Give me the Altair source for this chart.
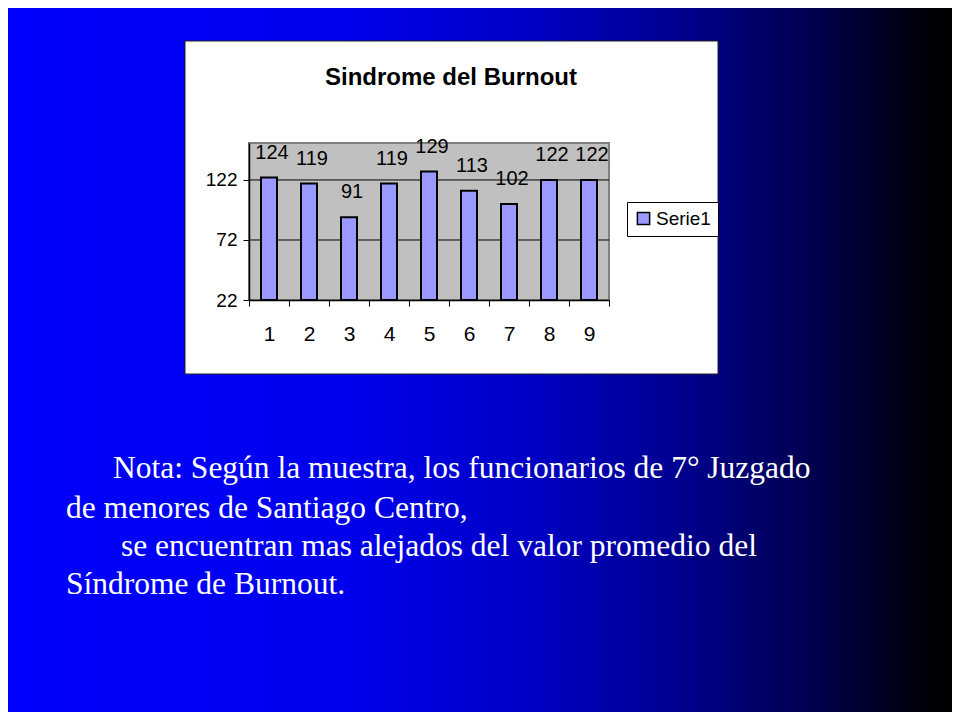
import altair as alt
import pandas as pd

# ---- data ----
CATEGORIES = ["1", "2", "3", "4", "5", "6", "7", "8", "9"]
VALUES = [124, 119, 91, 119, 129, 113, 102, 122, 122]
SERIES = "Serie1"
Y_TICKS = [22, 72, 122]
GRID_VALUES = [72, 122]
TITLE = "Sindrome del Burnout"
NOTE_LINES = [
    "Nota: Según la muestra, los funcionarios de 7° Juzgado",
    "de menores de Santiago Centro,",
    "se encuentran mas alejados del valor promedio del",
    "Síndrome de Burnout.",
]

# ---- layout (pixels, relative to the plot area) ----
W, H = 360, 157
PAD = {"left": 241, "top": 135, "right": 343, "bottom": 412}
NOTE_X = [-136, -183, -128, -183]
NOTE_Y = [335, 375, 413, 451]

BAR_COLOR = "#9999ff"
SANS = "Liberation Sans"
SERIF = "Liberation Serif"

df = pd.DataFrame({"cat": CATEGORIES, "val": VALUES, "serie": [SERIES] * len(VALUES)})
grid_df = pd.DataFrame({"val": GRID_VALUES})

yscale = alt.Scale(domain=[22, 152.8], nice=False, zero=False)
xscale = alt.Scale(paddingInner=0, paddingOuter=0)

yaxis = alt.Axis(values=Y_TICKS, tickSize=6, tickColor="black", domainColor="black",
                 domainWidth=1.5, labelFontSize=19, labelFont=SANS, labelColor="black",
                 labelPadding=6, zindex=1, grid=False, title=None)
xaxis = alt.Axis(labelAngle=0, tickBand="extent", tickSize=6, tickColor="black",
                 domainColor="black", domainWidth=1.5, labelFontSize=21, labelFont=SANS,
                 labelColor="black", labelPadding=17, zindex=1, grid=False, title=None)

bg_gradient = alt.LinearGradient(
    gradient="linear",
    stops=[
        alt.GradientStop(offset=0, color="#0000ff"),
        alt.GradientStop(offset=0.35, color="#0000ee"),
        alt.GradientStop(offset=0.55, color="#0000c6"),
        alt.GradientStop(offset=0.7, color="#000094"),
        alt.GradientStop(offset=0.85, color="#000050"),
        alt.GradientStop(offset=0.96, color="#000010"),
        alt.GradientStop(offset=1, color="#000000"),
    ],
    x1=0, x2=1, y1=0, y2=0,
)

one = pd.DataFrame({"k": [0]})

background = alt.Chart(one).mark_rect(fill=bg_gradient).encode(
    x=alt.value(-PAD["left"]), x2=alt.value(W + PAD["right"]),
    y=alt.value(-PAD["top"]), y2=alt.value(H + PAD["bottom"]),
)

white_box = alt.Chart(one).mark_rect(fill="white", stroke="#222222", strokeWidth=1).encode(
    x=alt.value(-64), x2=alt.value(469),
    y=alt.value(-102), y2=alt.value(231),
)

plot_bg = alt.Chart(one).mark_rect(fill="#c0c0c0", stroke="#808080", strokeWidth=2).encode(
    x=alt.value(0), x2=alt.value(W),
    y=alt.value(0), y2=alt.value(H),
)

grid = alt.Chart(grid_df).mark_rule(color="black", strokeWidth=1).encode(
    y=alt.Y("val:Q", scale=yscale, axis=yaxis),
)

bars = alt.Chart(df).mark_bar(stroke="black", strokeWidth=2, width=alt.RelativeBandSize(0.4)).encode(
    x=alt.X("cat:O", sort=CATEGORIES, scale=xscale, axis=xaxis),
    y=alt.Y("val:Q", scale=yscale, axis=yaxis),
    y2=alt.datum(22),
    color=alt.Color("serie:N", scale=alt.Scale(range=[BAR_COLOR]),
                    legend=alt.Legend(title=None, orient="none", legendX=378, legendY=59,
                                      symbolType="square", symbolSize=150,
                                      symbolStrokeColor="black", symbolStrokeWidth=1.5,
                                      labelFontSize=19, labelFont=SANS, labelColor="black",
                                      strokeColor="black", fillColor="white", padding=7,
                                      labelOffset=3)),
)

labels = alt.Chart(df).mark_text(font=SANS, fontSize=20, color="black",
                                 baseline="alphabetic", dy=-19, dx=3).encode(
    x=alt.X("cat:O", sort=CATEGORIES, scale=xscale, axis=xaxis),
    y=alt.Y("val:Q", scale=yscale, axis=yaxis),
    text=alt.Text("val:Q"),
)

title = alt.Chart(pd.DataFrame({"t": [TITLE]})).mark_text(
    font=SANS, fontSize=24, fontWeight="bold", color="black", baseline="alphabetic", align="center"
).encode(x=alt.value(202), y=alt.value(-58), text="t:N")

notes = []
for i, line in enumerate(NOTE_LINES):
    notes.append(
        alt.Chart(pd.DataFrame({"t": [line]})).mark_text(
            font=SERIF, fontSize=31.5, color="white", baseline="alphabetic", align="left"
        ).encode(x=alt.value(NOTE_X[i]), y=alt.value(NOTE_Y[i]), text="t:N")
    )

chart = alt.layer(background, white_box, plot_bg, grid, bars, labels, title, *notes).properties(
    width=W, height=H,
    autosize=alt.AutoSizeParams(type="none"),
    padding=PAD,
).configure_view(stroke=None).configure(background="#0000ff")

chart.save("out.html", embed_options={"renderer": "svg", "actions": False})
